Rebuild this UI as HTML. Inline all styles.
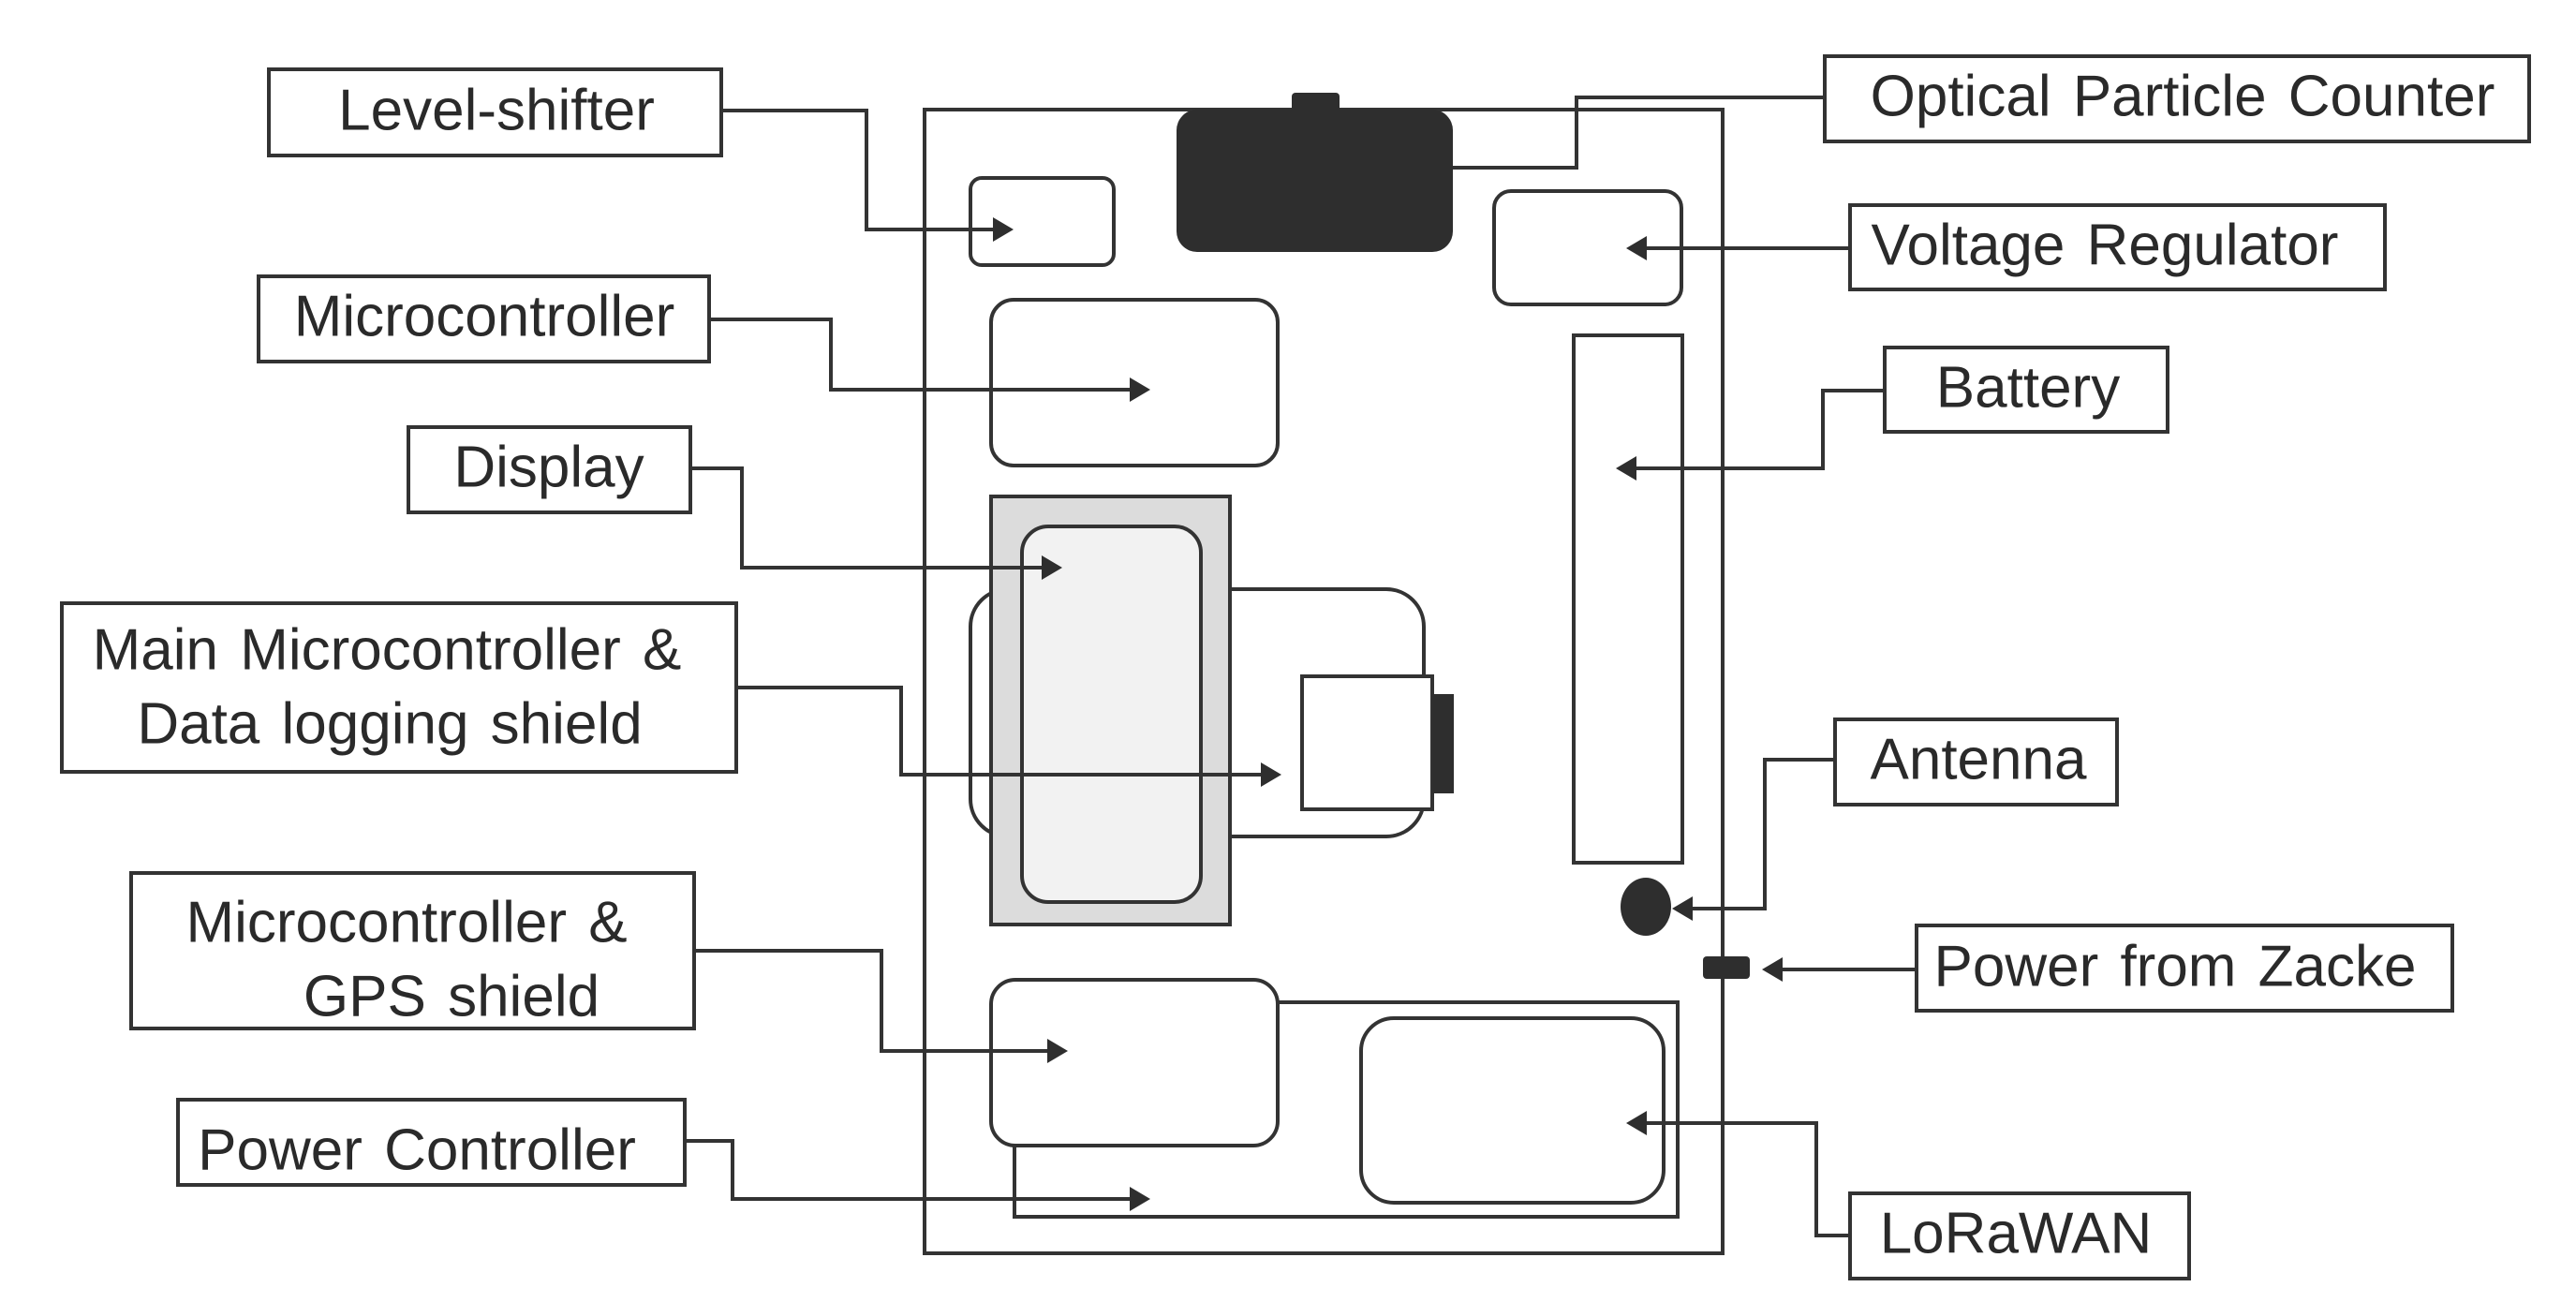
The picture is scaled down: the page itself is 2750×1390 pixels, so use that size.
<!DOCTYPE html>
<html><head><meta charset="utf-8"><style>
html,body{margin:0;padding:0;background:#fff;}
svg{display:block;}
text{font-family:"Liberation Sans",sans-serif;font-size:62px;fill:#2a2a2a;text-anchor:middle;dominant-baseline:central;word-spacing:6px;}
</style></head><body>
<svg width="2750" height="1390" viewBox="0 0 2750 1390" xmlns="http://www.w3.org/2000/svg">
<g fill="none" stroke="#333" stroke-width="4">
<rect x="987" y="117" width="852" height="1221" fill="#fff"/>
<rect x="1036" y="629" width="484" height="264" rx="40"/>
<rect x="1058" y="530" width="255" height="457" fill="#dcdcdc"/>
<rect x="1091" y="562" width="191" height="401" rx="28" fill="#f2f2f2"/>
<rect x="1390" y="722" width="139" height="142" fill="#fff"/>
<rect x="1529" y="741" width="23" height="106" fill="#2e2e2e" stroke="none"/>
<rect x="1036" y="190" width="153" height="93" rx="12"/>
<rect x="1058" y="320" width="306" height="177" rx="24"/>
<rect x="1379" y="99" width="51" height="22" rx="4" fill="#2e2e2e" stroke="none"/>
<rect x="1256" y="117" width="295" height="152" rx="22" fill="#2e2e2e" stroke="none"/>
<rect x="1595" y="204" width="200" height="121" rx="18"/>
<rect x="1680" y="358" width="116" height="563"/>
<ellipse cx="1757" cy="968" rx="27" ry="31" fill="#2e2e2e" stroke="none"/>
<rect x="1818" y="1021" width="50" height="24" rx="4" fill="#2e2e2e" stroke="none"/>
<rect x="1058" y="1046" width="306" height="177" rx="26"/>
<polyline points="1364,1070 1791,1070 1791,1299 1083,1299 1083,1223"/>
<rect x="1453" y="1087" width="323" height="197" rx="35"/>
<rect x="287" y="74" width="483" height="92" fill="#fff"/>
<rect x="276" y="295" width="481" height="91" fill="#fff"/>
<rect x="436" y="456" width="301" height="91" fill="#fff"/>
<rect x="66" y="644" width="720" height="180" fill="#fff"/>
<rect x="140" y="932" width="601" height="166" fill="#fff"/>
<rect x="190" y="1174" width="541" height="91" fill="#fff"/>
<rect x="1948" y="60" width="752" height="91" fill="#fff"/>
<rect x="1975" y="219" width="571" height="90" fill="#fff"/>
<rect x="2012" y="371" width="302" height="90" fill="#fff"/>
<rect x="1959" y="768" width="301" height="91" fill="#fff"/>
<rect x="2046" y="988" width="572" height="91" fill="#fff"/>
<rect x="1975" y="1274" width="362" height="91" fill="#fff"/>
<polyline points="770,118 925,118 925,245 1065,245"/>
<polyline points="757,341 887,341 887,416 1211,416"/>
<polyline points="737,500 792,500 792,606 1117,606"/>
<polyline points="786,734 962,734 962,827 1351,827"/>
<polyline points="741,1015 941,1015 941,1122 1123,1122"/>
<polyline points="731,1218 782,1218 782,1280 1211,1280"/>
<polyline points="1948,104 1683,104 1683,179 1551,179"/>
<polyline points="1975,265 1753,265"/>
<polyline points="2012,417 1946,417 1946,500 1742,500"/>
<polyline points="1959,811 1884,811 1884,970 1802,970"/>
<polyline points="2046,1035 1898,1035"/>
<polyline points="1975,1319 1939,1319 1939,1199 1753,1199"/>
</g>
<g fill="#2e2e2e">
<polygon points="1082,245 1060,232 1060,258"/>
<polygon points="1228,416 1206,403 1206,429"/>
<polygon points="1134,606 1112,593 1112,619"/>
<polygon points="1368,827 1346,814 1346,840"/>
<polygon points="1140,1122 1118,1109 1118,1135"/>
<polygon points="1228,1280 1206,1267 1206,1293"/>
<polygon points="1736,265 1758,252 1758,278"/>
<polygon points="1725,500 1747,487 1747,513"/>
<polygon points="1785,970 1807,957 1807,983"/>
<polygon points="1881,1035 1903,1022 1903,1048"/>
<polygon points="1736,1199 1758,1186 1758,1212"/>
</g>
<text x="530" y="118">Level-shifter</text>
<text x="517" y="338">Microcontroller</text>
<text x="586" y="499">Display</text>
<text x="413" y="694">Main Microcontroller &amp;</text>
<text x="416" y="773">Data logging shield</text>
<text x="434" y="985">Microcontroller &amp;</text>
<text x="482" y="1064">GPS shield</text>
<text x="445" y="1228">Power Controller</text>
<text x="2330" y="103">Optical Particle Counter</text>
<text x="2247" y="262">Voltage Regulator</text>
<text x="2165" y="414">Battery</text>
<text x="2112" y="811">Antenna</text>
<text x="2322" y="1032">Power from Zacke</text>
<text x="2152" y="1317">LoRaWAN</text>
</svg>
</body></html>
